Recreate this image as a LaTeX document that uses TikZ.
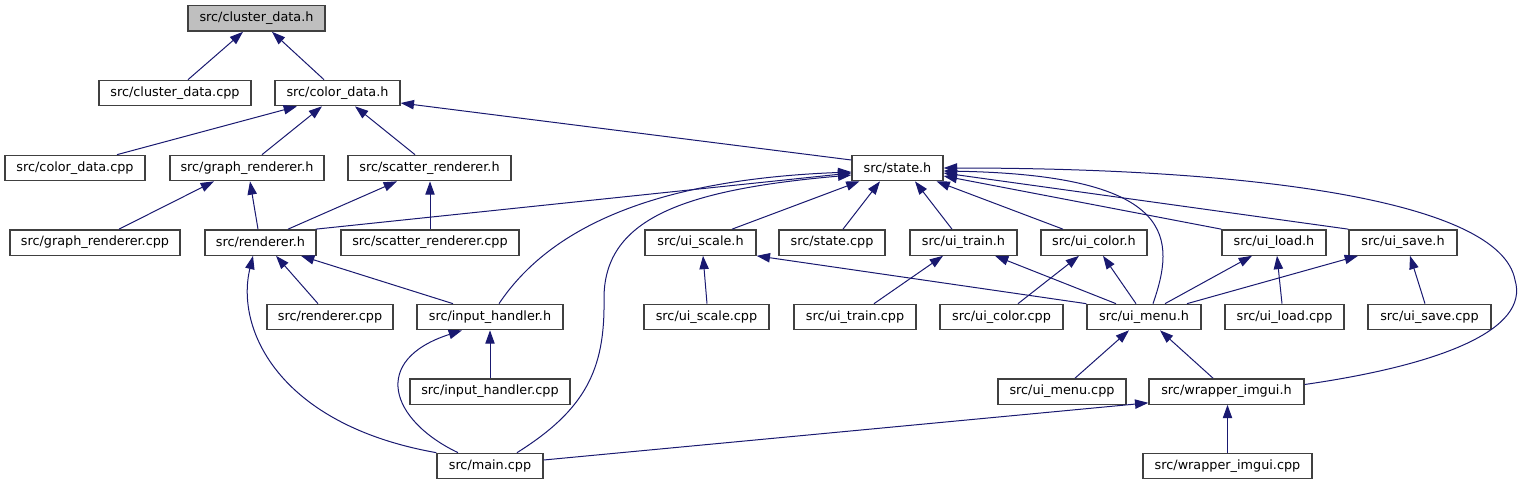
\documentclass[tikz,border=0pt]{standalone}
\usepackage{fontspec}
\setmainfont{DejaVu Sans}
\usetikzlibrary{arrows.meta,calc}
\definecolor{edgeblue}{HTML}{191970}
\definecolor{boxline}{HTML}{404040}
\definecolor{rootgray}{HTML}{BFBFBF}
\tikzset{
  box/.style={draw=boxline, fill=white, line width=1pt, minimum height=19pt,
    inner sep=0pt, font=\fontsize{9.6}{11}\selectfont},
  edge/.style={draw=edgeblue, line width=0.75pt,
    -{Triangle[length=10pt,width=7pt,fill=edgeblue]}}
}
\begin{document}
\begin{tikzpicture}[x=0.75pt,y=-0.75pt]
\useasboundingbox (0,0) rectangle (1522,485);
% row 1
\node[box, fill=rootgray, minimum width=102.75pt] (cdh) at (256.5,18.5) {src/cluster\_data.h};
% row 2
\node[box, minimum width=114pt] (cdcpp) at (175,93) {src/cluster\_data.cpp};
\node[box, minimum width=93.75pt] (coh) at (337.5,93) {src/color\_data.h};
% row 3
\node[box, minimum width=105pt] (cocpp) at (75,168) {src/color\_data.cpp};
\node[box, minimum width=115.5pt] (grh) at (247,168) {src/graph\_renderer.h};
\node[box, minimum width=122.25pt] (srh) at (429.5,168) {src/scatter\_renderer.h};
\node[box, minimum width=68.25pt] (sth) at (897.5,168) {src/state.h};
% row 4
\node[box, minimum width=127.5pt] (grcpp) at (95,242.5) {src/graph\_renderer.cpp};
\node[box, minimum width=83.25pt] (rh) at (260.5,242.5) {src/renderer.h};
\node[box, minimum width=133.5pt] (srcpp) at (430,242.5) {src/scatter\_renderer.cpp};
\node[box, minimum width=83.25pt] (uscah) at (700.5,242.5) {src/ui\_scale.h};
\node[box, minimum width=79.5pt] (stcpp) at (832,242.5) {src/state.cpp};
\node[box, minimum width=80.25pt] (utrh) at (963.5,242.5) {src/ui\_train.h};
\node[box, minimum width=79.5pt] (ucoh) at (1094,242.5) {src/ui\_color.h};
\node[box, minimum width=78pt] (ulh) at (1274,242.5) {src/ui\_load.h};
\node[box, minimum width=81pt] (usvh) at (1403,242.5) {src/ui\_save.h};
% row 5
\node[box, minimum width=94.5pt] (rcpp) at (330,317) {src/renderer.cpp};
\node[box, minimum width=109.5pt] (ihh) at (490,317) {src/input\_handler.h};
\node[box, minimum width=93.75pt] (uscacpp) at (706.5,317) {src/ui\_scale.cpp};
\node[box, minimum width=91.5pt] (utrcpp) at (855,317) {src/ui\_train.cpp};
\node[box, minimum width=92.25pt] (ucocpp) at (1001.5,317) {src/ui\_color.cpp};
\node[box, minimum width=85.5pt] (umh) at (1144,317) {src/ui\_menu.h};
\node[box, minimum width=89.25pt] (ulcpp) at (1284.5,317) {src/ui\_load.cpp};
\node[box, minimum width=92.25pt] (usvcpp) at (1429.5,317) {src/ui\_save.cpp};
% row 6
\node[box, minimum width=120pt] (ihcpp) at (490,391.5) {src/input\_handler.cpp};
\node[box, minimum width=96pt] (umcpp) at (1062,391.5) {src/ui\_menu.cpp};
\node[box, minimum width=116.25pt] (wih) at (1226.5,391.5) {src/wrapper\_imgui.h};
% row 7
\node[box, minimum width=79.5pt] (mcpp) at (490,466) {src/main.cpp};
\node[box, minimum width=126.75pt] (wicpp) at (1227.5,466) {src/wrapper\_imgui.cpp};
% waypoints
\coordinate (m1) at (604,300);
\coordinate (w1) at (1515,280);
% edges
\draw[edge] ($(cdcpp.north)+(13,0)$) -- ($(cdh.south)+(-13.5,0)$);
\draw[edge] ($(coh.north)+(-13.5,0)$) -- ($(cdh.south)+(15.5,0)$);
\draw[edge] ($(cocpp.north)+(42,0)$) -- ($(coh.south)+(-40.5,0)$);
\draw[edge] ($(grh.north)+(15,0)$) -- ($(coh.south)+(-15.5,0)$);
\draw[edge] ($(srh.north)+(-14.5,0)$) -- ($(coh.south)+(17.5,0)$);
\draw[edge] ($(sth.west)+(0,-8)$) -- ($(coh.east)+(0,10)$);
\draw[edge] ($(grcpp.north)+(24,0)$) -- ($(grh.south)+(-33,0)$);
\draw[edge] ($(rh.north)+(-2.5,0)$) -- ($(grh.south)+(3,0)$);
\draw[edge] ($(rh.north)+(27.5,0)$) -- ($(srh.south)+(-32.5,0)$);
\draw[edge] (srcpp.north) -- (srcpp.north |- srh.south);
\draw[edge] ($(rh.north east)+(-1,0)$) -- ($(sth.west)+(0,5)$);
\draw[edge] ($(ihh.north)+(9,0)$) .. controls (545,235) and (640,180) .. ($(sth.west)+(0,4)$);
\draw[edge] ($(mcpp.north)+(27,0)$) .. controls (585,410) and (605,370) .. (m1)
  .. controls (603,220) and (680,190) .. ($(sth.west)+(0,7)$);
\draw[edge] ($(uscah.north)+(31.5,0)$) -- ($(sth.south)+(-38,0)$);
\draw[edge] ($(stcpp.north)+(11,0)$) -- ($(sth.south)+(-17.5,0)$);
\draw[edge] ($(utrh.north)+(-11.5,0)$) -- ($(sth.south)+(17.5,0)$);
\draw[edge] ($(ucoh.north)+(-31,0)$) -- ($(sth.south)+(39,0)$);
\draw[edge] (ulh.north west) -- ($(sth.east)+(0,8)$);
\draw[edge] (usvh.north west) -- ($(sth.east)+(0,5)$);
\draw[edge] ($(umh.north)+(9,0)$) .. controls (1175,240) and (1180,175) .. ($(sth.east)+(0,3)$);
\draw[edge] ($(wih.east)+(0,-7)$) .. controls (1440,365) and (1530,330) .. (w1)
  .. controls (1500,200) and (1250,168) .. (sth.east);
\draw[edge] ($(rcpp.north)+(-12,0)$) -- ($(rh.south)+(15.5,0)$);
\draw[edge] ($(ihh.north)+(-37,0)$) -- ($(rh.south)+(40.5,0)$);
\draw[edge] (mcpp.north west) .. controls (280,425) and (235,330) .. ($(rh.south)+(-7.5,0)$);
\draw[edge] (ihcpp.north) -- (ihh.south);
\draw[edge] ($(mcpp.north)+(-32,0)$) .. controls (390,420) and (370,360) .. ($(ihh.south)+(-28,0)$);
\draw[edge] ($(uscacpp.north)+(0.5,0)$) -- ($(uscah.south)+(2.5,0)$);
\draw[edge] (umh.north west) -- (uscah.south east);
\draw[edge] ($(utrcpp.north)+(19,0)$) -- ($(utrh.south)+(-20.5,0)$);
\draw[edge] ($(umh.north)+(-28,0)$) -- ($(utrh.south)+(31.5,0)$);
\draw[edge] ($(ucocpp.north)+(16.5,0)$) -- ($(ucoh.south)+(-15,0)$);
\draw[edge] ($(umh.north)+(-8,0)$) -- ($(ucoh.south)+(9,0)$);
\draw[edge] ($(umh.north)+(21,0)$) -- ($(ulh.south)+(-22,0)$);
\draw[edge] ($(ulcpp.north)+(-2.5,0)$) -- ($(ulh.south)+(3,0)$);
\draw[edge] ($(umh.north)+(43,0)$) -- ($(usvh.south)+(-45,0)$);
\draw[edge] ($(usvcpp.north)+(-4.5,0)$) -- ($(usvh.south)+(7,0)$);
\draw[edge] ($(umcpp.north)+(13,0)$) -- ($(umh.south)+(-15,0)$);
\draw[edge] ($(wih.north)+(-13.5,0)$) -- ($(umh.south)+(16,0)$);
\draw[edge] (wicpp.north) -- (wicpp.north |- wih.south);
\draw[edge] ($(mcpp.east)+(0,-6)$) -- ($(wih.south west)+(0,-2)$);
\end{tikzpicture}
\end{document}
